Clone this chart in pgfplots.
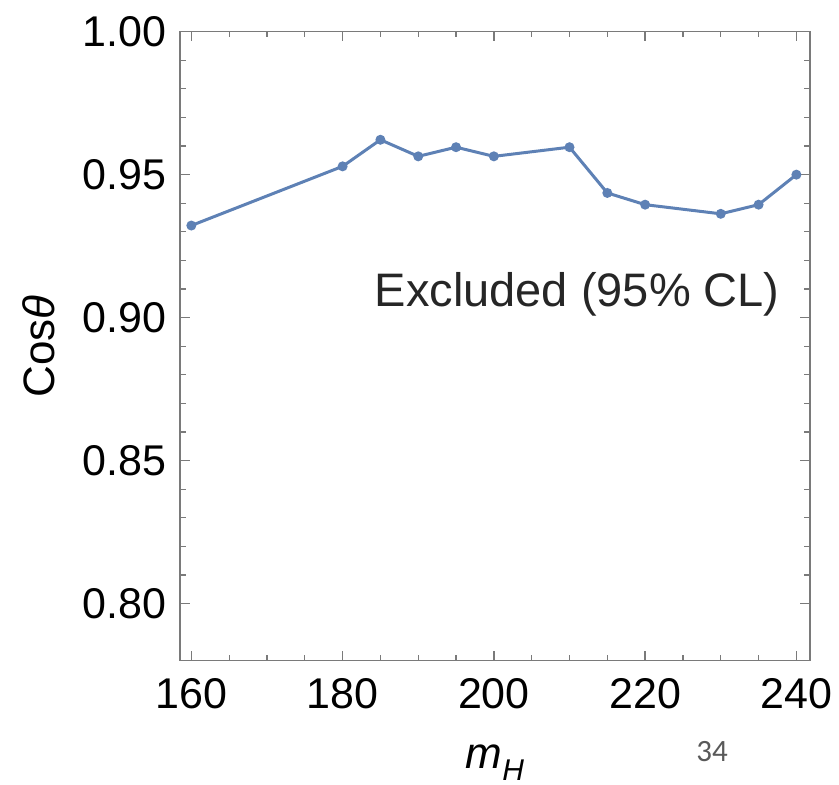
\documentclass[border=0pt]{standalone}
\usepackage{pgfplots}
\pgfplotsset{compat=1.18}
\usepackage{fontspec}
\setmainfont{Liberation Sans}
\newfontfamily\slidefont{Carlito}

\definecolor{lineblue}{HTML}{5E81B5}
\definecolor{framegray}{HTML}{7A7A7A}
\definecolor{textgray}{HTML}{262626}
\definecolor{pagegray}{HTML}{595959}

% Exclusion limit on cos(theta) versus the heavy Higgs mass
\pgfplotstableread{
mH    costheta
160   0.9322
180   0.9529
185   0.9622
190   0.9564
195   0.9596
200   0.9564
210   0.9596
215   0.9436
220   0.9395
230   0.9363
235   0.9395
240   0.9500
}\limitdata

\begin{document}
\begin{tikzpicture}
\begin{axis}[
  name=ax,
  scale only axis,
  width=315pt, height=314.5pt,
  xmin=158.5, xmax=241.8,
  ymin=0.78, ymax=1.00,
  xtick={160,180,...,240},
  ytick={0.80,0.85,0.90,0.95,1.00},
  minor x tick num=3,
  minor y tick num=4,
  tick align=inside,
  major tick length=4.8pt,
  minor tick length=2.8pt,
  axis line style={framegray, line width=0.75pt},
  every tick/.style={framegray, line width=0.75pt},
  every minor tick/.style={framegray, line width=0.6pt},
  /pgf/number format/assume math mode=true,
  y tick label style={/pgf/number format/fixed, /pgf/number format/fixed zerofill, /pgf/number format/precision=2},
  xticklabel style={font=\fontsize{21.5}{24}\selectfont, inner sep=0pt, anchor=north, yshift=-8.8pt},
  yticklabel style={font=\fontsize{21.5}{24}\selectfont, inner sep=0pt, anchor=east, xshift=-6.7pt},
  xlabel={\textit{m}\raisebox{-6pt}{\fontsize{15}{18}\selectfont\textit{H}}},
  ylabel={Cos\textit{θ}},
  xlabel style={font=\fontsize{22}{26}\selectfont, at={(axis description cs:0.5,0)}, anchor=base, yshift=-53.8pt},
  ylabel style={font=\fontsize{22}{26}\selectfont, at={(axis description cs:-0.2238,0.5)}, anchor=center},
  clip=false,
]
\addplot[color=lineblue, line width=1.5pt, mark=*, mark size=1.7pt,
         mark options={fill=lineblue, draw=lineblue}]
  table[x=mH, y=costheta] {\limitdata};
\node[anchor=base west, text=textgray, font=\fontsize{23.5}{28}\selectfont, inner sep=0pt]
  at (axis cs:184.2,0.9038) {Excluded (95\% CL)};
\end{axis}
\node[anchor=base, text=pagegray, font=\slidefont\fontsize{15.5}{18}\selectfont, inner sep=0pt]
  at ([shift={(266pt,-50.5pt)}]ax.south west) {34};
\pgfresetboundingbox
\path[use as bounding box] (ax.south west) ++(-90pt,-62.15pt) rectangle ++(419.5pt,392.5pt);
\end{tikzpicture}
\end{document}
